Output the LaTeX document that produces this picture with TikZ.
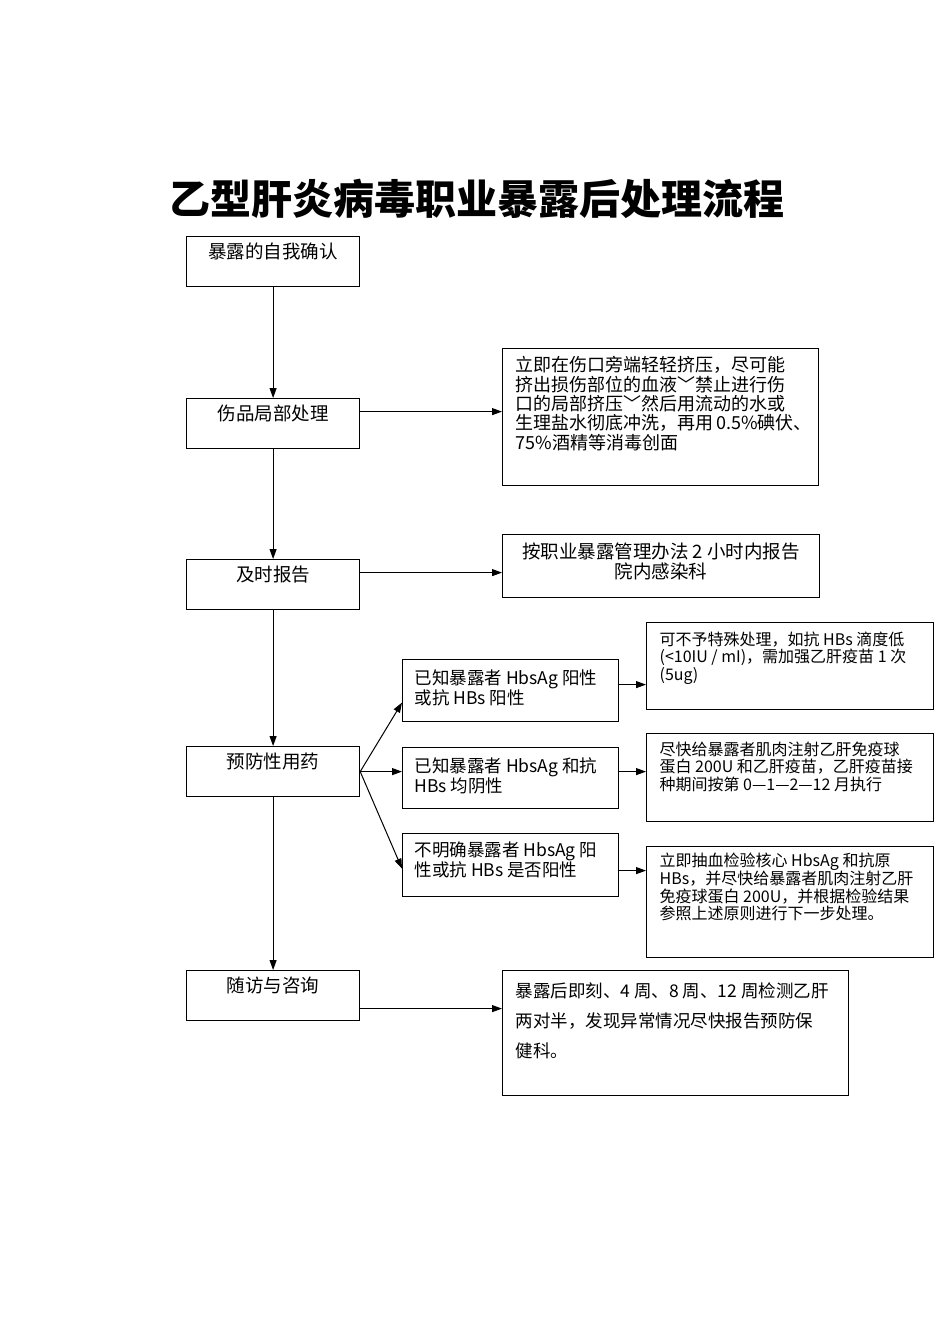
\documentclass[tikz,border=0pt]{standalone}
\usepackage{fontspec}
\setmainfont{Noto Sans CJK SC}
\usepackage{tikz}
\usetikzlibrary{arrows.meta, positioning, calc}
\newcommand{\boxtext}[4]{\parbox[t][#2][t]{#1}{\vspace*{#3}#4}}
\tikzstyle{stage} = [rectangle, draw=black, line width=1.2pt, anchor=north west, inner sep=0pt, font=\fontsize{18.5}{19.5}\selectfont]
\tikzstyle{arrow} = [line width=1pt, -{Triangle[length=10pt,width=7pt]}]

\begin{document}
\begin{tikzpicture}[
    x=1pt, y=-1pt,
    note/.style={rectangle, draw=black, line width=1.2pt, anchor=north west, inner xsep=13pt, inner ysep=0pt, font=\fontsize{18.5}{19.5}\selectfont},
    small/.style={note, font=\fontsize{16}{17.5}\selectfont}
]
\useasboundingbox (0,0) rectangle (950,1344);

% Title
\node[font=\fontsize{41}{45}\selectfont\bfseries] (title) at (477,199) {乙型肝炎病毒职业暴露后处理流程};

% Main steps
\node[stage] (expo) at (186,236) {\boxtext{173pt}{50pt}{6pt}{\centering 暴露的自我确认}};
\node[stage] (wound) at (186,398) {\boxtext{173pt}{50pt}{6pt}{\centering 伤品局部处理}};
\node[stage] (report) at (186,559) {\boxtext{173pt}{50pt}{6pt}{\centering 及时报告}};
\node[stage] (prevent) at (186,746) {\boxtext{173pt}{50pt}{6pt}{\centering 预防性用药}};
\node[stage] (follow) at (186,970) {\boxtext{173pt}{50pt}{6pt}{\centering 随访与咨询}};

% Notes
\node[note, font=\fontsize{18}{19.3}\selectfont] (woundnote) at (502,348) {\boxtext{290pt}{137pt}{8pt}{\raggedright 立即在伤口旁端轻轻挤压，尽可能\\挤出损伤部位的血液﹀禁止进行伤\\口的局部挤压﹀然后用流动的水或\\生理盐水彻底冲洗，再用~0.5\%碘伏、\\75\%酒精等消毒创面}};
\node[note, font=\fontsize{18.5}{20.5}\selectfont] (reportnote) at (502,534) {\boxtext{291pt}{63pt}{8pt}{\centering 按职业暴露管理办法~2~小时内报告\\院内感染科}};
\node[note, font=\fontsize{17.5}{30}\selectfont] (follownote) at (502,970) {\boxtext{320pt}{125pt}{12pt}{\raggedright 暴露后即刻、4~周、8~周、12~周检测乙肝\\两对半，发现异常情况尽快报告预防保\\健科。}};

% Cases
\node[note, inner xsep=12pt, font=\fontsize{17.5}{19}\selectfont] (pos) at (402,659) {\boxtext{192pt}{62pt}{10pt}{\raggedright 已知暴露者~HbsAg~阳性\\或抗~HBs~阳性}};
\node[note, inner xsep=12pt, font=\fontsize{17.5}{19}\selectfont] (neg) at (402,747) {\boxtext{192pt}{61pt}{10pt}{\raggedright 已知暴露者~HbsAg~和抗\\HBs~均阴性}};
\node[note, inner xsep=12pt, font=\fontsize{17.5}{19}\selectfont] (unk) at (402,833) {\boxtext{192pt}{63pt}{8pt}{\raggedright 不明确暴露者~HbsAg~阳\\性或抗~HBs~是否阳性}};

\node[small] (posnote) at (646,622) {\boxtext{261pt}{87pt}{9pt}{\raggedright 可不予特殊处理，如抗~HBs~滴度低\\(<10IU~/~mI)，需加强乙肝疫苗~1~次\\(5ug)}};
\node[small] (negnote) at (646,733) {\boxtext{261pt}{88pt}{8pt}{\raggedright 尽快给暴露者肌肉注射乙肝免疫球\\蛋白~200U~和乙肝疫苗，乙肝疫苗接\\种期间按第~0—1—2—12~月执行}};
\node[small] (unknote) at (646,846) {\boxtext{261pt}{111pt}{6pt}{\raggedright 立即抽血检验核心~HbsAg~和抗原\\HBs，并尽快给暴露者肌肉注射乙肝\\免疫球蛋白~200U，并根据检验结果\\参照上述原则进行下一步处理。}};

% Flow
\draw[arrow] (expo) -- (wound);
\draw[arrow] (wound) -- (report);
\draw[arrow] (report) -- (prevent);
\draw[arrow] (prevent) -- (follow);

\draw[arrow] ([yshift=12pt]wound.east) -- ([yshift=12pt]wound.east -| woundnote.west);
\draw[arrow] ([yshift=12pt]report.east) -- ([yshift=12pt]report.east -| reportnote.west);
\draw[arrow] ([yshift=-13pt]follow.east) -- ([yshift=-13pt]follow.east -| follownote.west);

% Branches
\draw[arrow] (prevent.east) -- ([yshift=-12pt]pos.west);
\draw[arrow] (prevent.east) -- (prevent.east -| neg.west);
\draw[arrow] (prevent.east) -- ([yshift=-3.5pt]unk.west);

\draw[arrow] ([yshift=6pt]pos.east) -- ([yshift=6pt]pos.east -| posnote.west);
\draw[arrow] ([yshift=6.5pt]neg.east) -- ([yshift=6.5pt]neg.east -| negnote.west);
\draw[arrow] ([yshift=-5.5pt]unk.east) -- ([yshift=-5.5pt]unk.east -| unknote.west);

\end{tikzpicture}
\end{document}
